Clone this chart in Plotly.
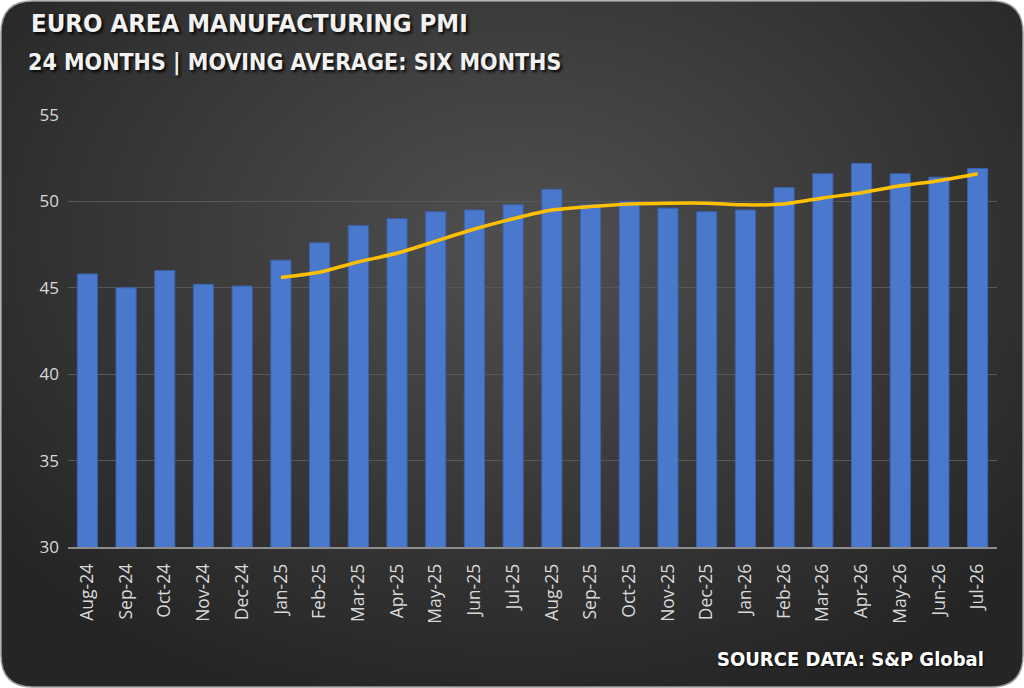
import plotly.graph_objects as go

# Euro area manufacturing PMI
months = ["Aug-24", "Sep-24", "Oct-24", "Nov-24", "Dec-24", "Jan-25", "Feb-25", "Mar-25",
          "Apr-25", "May-25", "Jun-25", "Jul-25", "Aug-25", "Sep-25", "Oct-25", "Nov-25",
          "Dec-25", "Jan-26", "Feb-26", "Mar-26", "Apr-26", "May-26", "Jun-26", "Jul-26"]
pmi = [45.8, 45.0, 46.0, 45.2, 45.1, 46.6, 47.6, 48.6, 49.0, 49.4, 49.5, 49.8,
       50.7, 49.8, 50.0, 49.6, 49.4, 49.5, 50.8, 51.6, 52.2, 51.6, 51.4, 51.9]
# six month moving average (starts at Jan-25)
ma_months = months[5:]
ma6 = [45.6, 45.9, 46.5, 47.0, 47.7, 48.4, 49.0, 49.5, 49.7, 49.85, 49.9, 49.9,
       49.8, 49.85, 50.2, 50.5, 50.9, 51.2, 51.6]
y_ticks = [30, 35, 40, 45, 50, 55]

W, H = 1024, 688
L, R, T, B = 68, 997, 115, 547


def px_x(x):
    return (x - L) / (R - L)


def px_y(y):
    return (B - y) / (B - T)


fig = go.Figure()
fig.add_trace(go.Bar(x=months, y=pmi, marker_color="#4a78cc",
                     marker_line=dict(color="#3b62ad", width=1), name="PMI"))
fig.add_trace(go.Scatter(x=ma_months, y=ma6, mode="lines", name="MA",
                         line=dict(color="#ffc000", width=3.5, shape="spline", smoothing=0.5)))

# rounded dark card behind everything
r = 32
x0, x1, y0, y1 = 1, W - 1, 1, H - 1
path = (f"M {px_x(x0 + r)} {px_y(y0)} L {px_x(x1 - r)} {px_y(y0)} "
        f"Q {px_x(x1)} {px_y(y0)} {px_x(x1)} {px_y(y0 + r)} "
        f"L {px_x(x1)} {px_y(y1 - r)} Q {px_x(x1)} {px_y(y1)} {px_x(x1 - r)} {px_y(y1)} "
        f"L {px_x(x0 + r)} {px_y(y1)} Q {px_x(x0)} {px_y(y1)} {px_x(x0)} {px_y(y1 - r)} "
        f"L {px_x(x0)} {px_y(y0 + r)} Q {px_x(x0)} {px_y(y0)} {px_x(x0 + r)} {px_y(y0)} Z")
shapes = [dict(type="path", path=path, xref="paper", yref="paper", layer="below",
               fillcolor="#252525", line=dict(color="#9a9a9a", width=1.5))]

# soft radial glow
cx, cy = 520, 240
n = 40
for i in range(n):
    rx = 660 - i * 15.5
    ry = 480 - i * 11.5
    shapes.append(dict(type="circle", xref="paper", yref="paper", layer="below",
                       x0=px_x(cx - rx), x1=px_x(cx + rx), y0=px_y(cy + ry), y1=px_y(cy - ry),
                       fillcolor="rgba(255,255,255,0.008)", line=dict(width=0)))

title_font = "DejaVu Sans Condensed"
shadow = "2px 2px 3px rgba(0,0,0,0.9)"
annotations = [
    dict(text="<b>EURO AREA MANUFACTURING PMI</b>", x=px_x(29), y=px_y(23), xref="paper", yref="paper",
         xanchor="left", yanchor="middle", showarrow=False,
         font=dict(family=title_font, size=25.5, color="#f2f2f2", shadow=shadow)),
    dict(text="<b>24 MONTHS | MOVING AVERAGE: SIX MONTHS</b>", x=px_x(26), y=px_y(62), xref="paper",
         yref="paper", xanchor="left", yanchor="middle", showarrow=False,
         font=dict(family=title_font, size=23, color="#f2f2f2", shadow=shadow)),
    dict(text="<b>SOURCE DATA: S&P Global</b>", x=px_x(986), y=px_y(659), xref="paper", yref="paper",
         xanchor="right", yanchor="middle", showarrow=False,
         font=dict(family=title_font, size=20, color="#ffffff", shadow="1px 1px 2px rgba(0,0,0,0.8)")),
]

fig.update_layout(
    width=W, height=H, margin=dict(l=L, r=W - R, t=T, b=H - B, autoexpand=False),
    paper_bgcolor="#ffffff", plot_bgcolor="rgba(0,0,0,0)",
    showlegend=False, bargap=0.48, shapes=shapes, annotations=annotations,
    font=dict(family="Open Sans", color="#d9d9d9"),
)
fig.update_xaxes(tickangle=-90, tickfont=dict(size=17.5, color="#d9d9d9"), showgrid=False,
                 showline=True, linecolor="#8c8c8c", linewidth=1.5, ticks="", ticklen=0,
                 ticklabelstandoff=8)
fig.update_yaxes(range=[30, 55], tickvals=y_ticks, tickfont=dict(size=17, color="#d9d9d9"),
                 gridcolor="#575757", gridwidth=1, zeroline=False, ticks="", ticklabelstandoff=8)

fig.write_html("out.html", config={"displayModeBar": False},
               post_script="document.body.style.margin='0';")
